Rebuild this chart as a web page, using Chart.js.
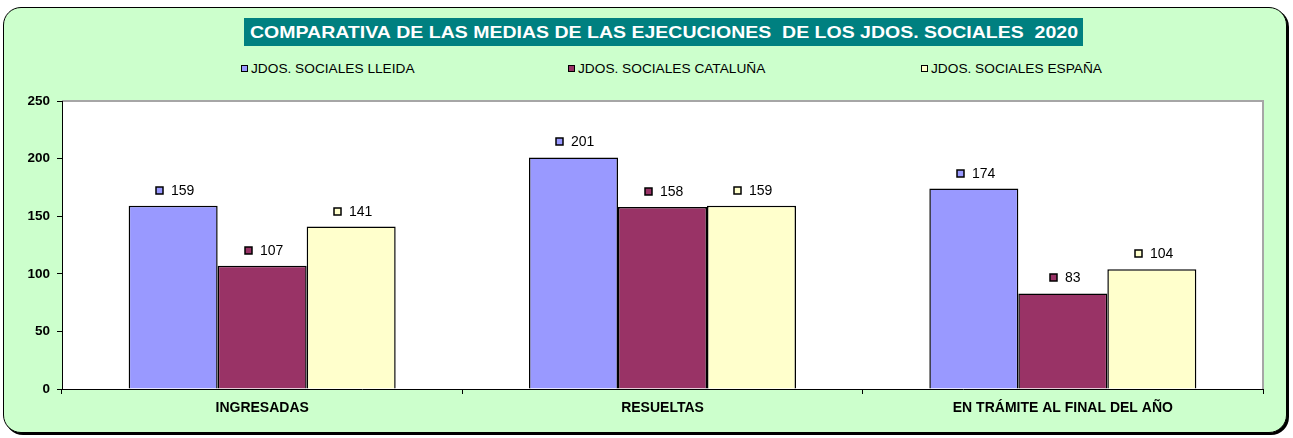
<!DOCTYPE html>
<html><head><meta charset="utf-8">
<script src="https://cdn.jsdelivr.net/npm/chart.js@4.4.0/dist/chart.umd.min.js"></script>
<style>
html,body{margin:0;padding:0;background:#fff;width:1293px;height:438px;overflow:hidden;font-family:"Liberation Sans",Arial,sans-serif;}
#frame{position:absolute;left:3px;top:7px;width:1282px;height:424px;background:#CCFFCC;border:1.5px solid #000;border-radius:18px;box-shadow:2px 2px 0 #000;}
#title{position:absolute;left:244px;top:18px;width:839px;height:28px;background:#008080;color:#fff;font-weight:bold;font-size:16.5px;line-height:28px;white-space:nowrap;overflow:hidden;}
#title span{display:inline-block;transform-origin:0 50%;position:absolute;left:6px;}
.leg{position:absolute;top:61px;font-size:13.7px;color:#000;white-space:nowrap;line-height:16px;}
.leg i{display:inline-block;width:5px;height:5px;border:1.5px solid #000;margin-right:3px;vertical-align:1px;}
canvas{position:absolute;left:0;top:0;}
</style></head>
<body>
<div id="frame"></div>
<div id="title"><span id="tspan"></span></div>
<div id="legend"></div>
<canvas id="c" width="1293" height="438"></canvas>
<script>
const titleText = "COMPARATIVA DE LAS MEDIAS DE LAS EJECUCIONES  DE LOS JDOS. SOCIALES  2020";
const categories = ["INGRESADAS", "RESUELTAS", "EN TRÁMITE AL FINAL DEL AÑO"];
const seriesNames = ["JDOS. SOCIALES LLEIDA", "JDOS. SOCIALES CATALUÑA", "JDOS. SOCIALES ESPAÑA"];
const lleida = [159, 201, 174];
const cataluna = [107, 158, 83];
const espana = [141, 159, 104];
const colors = ["#9999FF", "#993366", "#FFFFCC"];
const yTicks = [0, 50, 100, 150, 200, 250];

// title
const ts = document.getElementById('tspan');
ts.textContent = titleText.replace(/ /g, '\u00a0');
const tw = ts.getBoundingClientRect().width;
ts.style.transform = 'scaleX(' + (828 / tw) + ')';

// legend
const legX = [241, 568, 921];
const legend = document.getElementById('legend');
seriesNames.forEach((n, i) => {
  const d = document.createElement('div');
  d.className = 'leg';
  d.style.left = legX[i] + 'px';
  d.innerHTML = '<i style="background:' + colors[i] + '"></i>' + n;
  legend.appendChild(d);
});

const plotBg = {
  id: 'plotBg',
  beforeDraw(chart) {
    const a = chart.chartArea, ctx = chart.ctx;
    ctx.save();
    ctx.fillStyle = '#fff';
    ctx.fillRect(a.left, a.top, a.right - a.left, a.bottom - a.top);
    ctx.strokeStyle = '#A6A6A6';
    ctx.lineWidth = 2;
    ctx.beginPath();
    ctx.moveTo(a.left, a.top);
    ctx.lineTo(a.right, a.top);
    ctx.lineTo(a.right, a.bottom);
    ctx.stroke();
    ctx.restore();
  }
};

const labels = {
  id: 'valLabels',
  afterDatasetsDraw(chart) {
    const ctx = chart.ctx;
    ctx.save();
    ctx.font = '14px "Liberation Sans", Arial, sans-serif';
    ctx.textBaseline = 'middle';
    ctx.textAlign = 'left';
    chart.data.datasets.forEach((ds, di) => {
      const meta = chart.getDatasetMeta(di);
      meta.data.forEach((bar, i) => {
        const txt = String(ds.data[i]);
        const w = ctx.measureText(txt).width;
        const total = 7 + 8 + w;
        const sx = Math.round(bar.x - total / 2 + 2);
        const y = Math.round(bar.y - 15);
        ctx.fillStyle = colors[di];
        ctx.fillRect(sx, y - 4, 7, 7);
        ctx.strokeStyle = '#000';
        ctx.lineWidth = 1.5;
        ctx.strokeRect(sx, y - 4, 7, 7);
        ctx.fillStyle = '#000';
        ctx.fillText(txt, sx + 15, y);
      });
    });
    ctx.restore();
  }
};

new Chart(document.getElementById('c'), {
  type: 'bar',
  data: {
    labels: categories,
    datasets: [lleida, cataluna, espana].map((d, i) => ({
      label: seriesNames[i],
      data: d,
      backgroundColor: colors[i],
      borderColor: '#000',
      borderWidth: 1.5,
      borderSkipped: 'bottom',
      categoryPercentage: 0.667,
      barPercentage: 1.0
    }))
  },
  options: {
    responsive: false,
    animation: false,
    devicePixelRatio: 1,
    layout: { padding: { left: 0, top: 101, right: 30, bottom: 0 } },
    plugins: { legend: { display: false }, title: { display: false }, tooltip: { enabled: false } },
    scales: {
      y: {
        min: 0, max: 250,
        afterFit(s) { s.width = 62; },
        afterBuildTicks(s) { s.ticks = yTicks.map(v => ({ value: v })); },
        border: { display: true, color: '#000', width: 1 },
        grid: { drawOnChartArea: false, drawTicks: true, tickLength: 5, color: '#000' },
        ticks: { color: '#000', padding: 7, font: { family: '"Liberation Sans", Arial, sans-serif', size: 13.5, weight: 'bold' } }
      },
      x: {
        afterFit(s) { s.height = 49; },
        border: { display: true, color: '#000', width: 1 },
        grid: { drawOnChartArea: false, drawTicks: true, tickLength: 5, color: '#000', offset: true },
        ticks: { color: '#000', padding: 6, maxRotation: 0, font: { family: '"Liberation Sans", Arial, sans-serif', size: 14, weight: 'bold' } }
      }
    }
  },
  plugins: [plotBg, labels]
});
</script>
</body></html>
